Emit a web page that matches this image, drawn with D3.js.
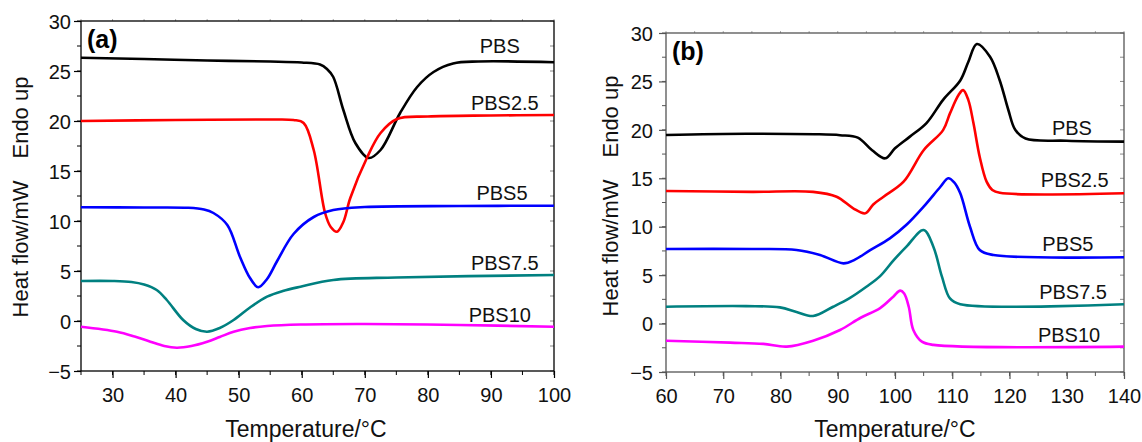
<!DOCTYPE html>
<html lang="en">
<head>
<meta charset="utf-8">
<title>DSC curves PBS</title>
<script src="https://d3js.org/d3.v7.min.js"></script>
<style>
 body { margin: 0; background: #fff; }
 svg { font-family: "Liberation Sans", Arial, Helvetica, sans-serif; }
 .tick text { font-size: 20px; fill: #111; }
</style>
</head>
<body>
<script>
// series names
var names = ["PBS", "PBS2.5", "PBS5", "PBS7.5", "PBS10"];
var colors = ["#000000", "#ff0000", "#0000ff", "#008080", "#ff00ff"];

// (a) heating scans: [temperature, heat flow]
var aPBS = [[25,26.33],[35,26.2],[45,26.05],[55,25.95],[60,25.85],[62.9,25.65],[64,25.2],[65,24.4],[66.6,21.1],[68.5,17.8],[70.6,16.3],[72.5,17.1],[75.6,20.8],[78.3,23.4],[80.9,24.9],[84,25.75],[88,25.95],[100,25.87]];
var aPBS25 = [[25,20.0],[40,20.1],[55,20.15],[58.7,20.1],[60.3,19.8],[61.9,17.1],[63.7,10.8],[64.6,9.4],[65.6,8.93],[66.6,9.9],[67.7,12.3],[70.4,16.4],[72.5,18.8],[75.1,20.2],[80,20.45],[90,20.55],[100,20.6]];
var aPBS5 = [[25,11.37],[35,11.35],[42,11.32],[44.5,11.15],[46,10.8],[48.2,9.6],[50.2,6.43],[51.8,4.3],[53.1,3.37],[54.5,4.2],[56.1,6.0],[58.7,8.7],[61.9,10.4],[65,11.1],[70,11.4],[85,11.5],[100,11.53]];
var aPBS75 = [[25,4.0],[30,4.0],[33,3.9],[35,3.65],[37,3.1],[38.6,2.1],[41.2,0.1],[43.2,-0.8],[45,-1.07],[47,-0.7],[49.2,0.1],[51.8,1.35],[54.5,2.43],[57,3.0],[59.8,3.43],[65,4.1],[75,4.35],[100,4.6]];
var aPBS10 = [[25,-0.57],[30.7,-1.07],[33.5,-1.55],[36,-2.07],[38.2,-2.5],[40.2,-2.67],[42.5,-2.5],[45,-2.07],[47,-1.6],[49.2,-1.07],[51.8,-0.7],[54.5,-0.5],[59.8,-0.35],[70,-0.3],[85,-0.4],[100,-0.57]];

// (b) cooling scans
var bPBS = [[60,19.47],[74,19.6],[86,19.55],[90.4,19.45],[93.5,19.2],[96,17.9],[98.3,17.06],[100,18.1],[102.6,19.3],[105.5,20.7],[108.4,23.1],[111.4,25.1],[112.8,27.0],[114.3,28.86],[116.6,27.55],[118.3,25.1],[119.8,22.05],[121,20.0],[122.8,19.1],[130,18.88],[140,18.78]];
var bPBS25 = [[60,13.69],[75,13.6],[85.7,13.6],[89.8,13.1],[92.7,11.9],[94.8,11.38],[96.2,12.3],[98,13.1],[101.5,14.65],[105,17.9],[108.4,19.97],[109.6,21.7],[111.1,23.6],[111.9,24.1],[112.8,23.1],[113.7,20.7],[114.8,17.2],[116,14.65],[117,13.8],[118.3,13.5],[140,13.45]];
var bPBS5 = [[60,7.7],[75,7.7],[82.8,7.6],[86.9,7.08],[91,6.22],[93,6.6],[95.6,7.55],[99.1,8.8],[102,10.2],[105,12.07],[107.9,14.1],[109.3,15.0],[110.3,14.6],[111.4,13.45],[113.1,10.0],[114.8,7.6],[117.2,7.08],[140,6.84]];
var bPBS75 = [[60,1.74],[74,1.8],[79.9,1.67],[82.8,1.2],[85.7,0.78],[89.2,1.74],[92,2.6],[95,3.8],[97.4,4.9],[99.7,6.5],[102,7.94],[105,9.66],[106.7,7.94],[108.2,4.84],[109.6,2.6],[111.4,2.0],[140,2.0]];
var bPBS10 = [[60,-1.77],[71.2,-1.97],[77,-2.1],[81.1,-2.38],[85.7,-1.77],[90.4,-0.66],[94,0.6],[97.4,1.6],[99.7,2.78],[100.9,3.4],[101.6,3.1],[102.4,1.74],[103.2,-0.66],[104.7,-1.87],[106.7,-2.2],[140,-2.38]];

// label anchors (temperature, heat flow) for each series
var aLabelT = [91.4, 92.2, 91.75, 92.2, 91.4];
var aLabelV = [26.8, 21.1, 12.1, 5.1, -0.1];
var bLabelT = [130.9, 131.4, 130.2, 131.1, 130.4];
var bLabelV = [19.47, 14.1, 7.5, 2.54, -1.9];

// axis ticks
var aXTicks = [30, 40, 50, 60, 70, 80, 90, 100];
var bXTicks = [60, 70, 80, 90, 100, 110, 120, 130, 140];
var yTicks = [-5, 0, 5, 10, 15, 20, 25, 30];

var svg = d3.select("body").append("svg")
    .attr("width", 1142)
    .attr("height", 442);

function panel(opt) {
    var x = d3.scaleLinear().domain(opt.xDomain).range([opt.left, opt.right]);
    var y = d3.scaleLinear().domain([-5, 30]).range([opt.bottom, opt.top]);
    var g = svg.append("g");
    var ax = opt.axisColor;

    //minor ticks
    var xMinor = d3.range(opt.xDomain[0], opt.xDomain[1] + 0.01, 5);
    var yMinor = d3.range(-5, 30.01, 2.5);

    //bottom axis
    var xa = g.append("g")
        .attr("transform", "translate(0," + opt.bottom + ")")
        .call(d3.axisBottom(x).tickValues(opt.xTicks).tickSize(7).tickPadding(10).tickFormat(d3.format("d")));
    xa.select(".domain").remove();
    xa.selectAll("line").attr("stroke", ax).attr("stroke-width", 1.2);
    g.selectAll(".xminor").data(xMinor).enter().append("line")
        .attr("x1", function (d) { return x(d); })
        .attr("x2", function (d) { return x(d); })
        .attr("y1", opt.bottom).attr("y2", opt.bottom + 4)
        .attr("stroke", ax).attr("stroke-width", 1);

    //left axis
    var ya = g.append("g")
        .attr("transform", "translate(" + opt.left + ",0)")
        .call(d3.axisLeft(y).tickValues(yTicks).tickSize(7).tickPadding(opt.yPad));
    ya.select(".domain").remove();
    ya.selectAll("line").attr("stroke", ax).attr("stroke-width", 1.2);
    ya.selectAll("text").attr("dy", "0.36em");
    g.selectAll(".yminor").data(yMinor).enter().append("line")
        .attr("x1", opt.left - 4).attr("x2", opt.left)
        .attr("y1", function (d) { return y(d); })
        .attr("y2", function (d) { return y(d); })
        .attr("stroke", ax).attr("stroke-width", 1);

    //right and top inner ticks
    g.selectAll(".rtick").data(yMinor).enter().append("line")
        .attr("x1", opt.right - 4).attr("x2", opt.right)
        .attr("y1", function (d) { return y(d); })
        .attr("y2", function (d) { return y(d); })
        .attr("stroke", "#888").attr("stroke-width", 1);
    g.selectAll(".ttick").data(xMinor).enter().append("line")
        .attr("x1", function (d) { return x(d); })
        .attr("x2", function (d) { return x(d); })
        .attr("y1", opt.top).attr("y2", opt.top - 2)
        .attr("stroke", "#aaa").attr("stroke-width", 1);

    //frame
    g.append("rect")
        .attr("x", opt.left).attr("y", opt.top)
        .attr("width", opt.right - opt.left).attr("height", opt.bottom - opt.top)
        .attr("fill", "none").attr("stroke", ax).attr("stroke-width", 1.3);

    //curves
    var line = d3.line()
        .x(function (d) { return x(d[0]); })
        .y(function (d) { return y(d[1]); })
        .curve(d3.curveCatmullRom.alpha(0.5));
    g.selectAll(".curve").data(opt.series).enter().append("path")
        .attr("d", line)
        .attr("fill", "none")
        .attr("stroke", function (d, i) { return colors[i]; })
        .attr("stroke-width", 2.6);

    //series labels
    g.selectAll(".lbl").data(names).enter().append("text")
        .attr("x", function (d, i) { return x(opt.labelT[i]); })
        .attr("y", function (d, i) { return y(opt.labelV[i]); })
        .attr("text-anchor", "middle")
        .attr("font-size", "20px")
        .attr("fill", "#111")
        .text(function (d) { return d; });

    //panel letter
    g.append("text")
        .attr("x", opt.left + 6).attr("y", opt.top + 27)
        .attr("font-size", "25px").attr("font-weight", "bold")
        .text(opt.letter);

    //axis titles
    g.append("text")
        .attr("x", opt.titleX).attr("y", 437)
        .attr("text-anchor", "middle")
        .attr("font-size", "23px").attr("fill", "#111")
        .text("Temperature/\u00b0C");

    var yt = g.append("text")
        .attr("transform", "translate(" + opt.yTitleX + "," + opt.yTitleY + ") rotate(-90)")
        .attr("text-anchor", "middle")
        .attr("font-size", "22px").attr("fill", "#111");
    yt.append("tspan").text("Heat flow/mW");
    yt.append("tspan").attr("dx", 22).text("Endo up");
}

panel({
    left: 81, right: 554, top: 21, bottom: 371,
    xDomain: [25, 100], xTicks: aXTicks, yPad: 3,
    axisColor: "#000",
    series: [aPBS, aPBS25, aPBS5, aPBS75, aPBS10],
    labelT: aLabelT, labelV: aLabelV,
    letter: "(a)", titleX: 306, yTitleX: 28, yTitleY: 197
});

panel({
    left: 666, right: 1124, top: 33, bottom: 372,
    xDomain: [60, 140], xTicks: bXTicks, yPad: 6,
    axisColor: "#555",
    series: [bPBS, bPBS25, bPBS5, bPBS75, bPBS10],
    labelT: bLabelT, labelV: bLabelV,
    letter: "(b)", titleX: 895, yTitleX: 618, yTitleY: 196
});
</script>
</body>
</html>
